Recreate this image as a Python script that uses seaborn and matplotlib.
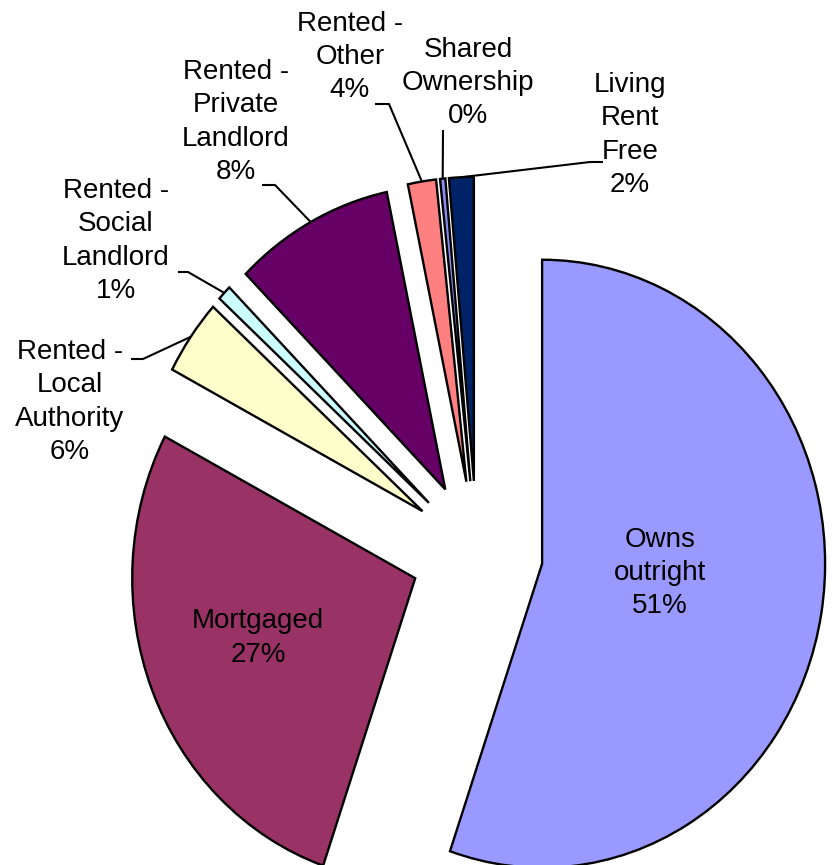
import matplotlib
matplotlib.use("Agg")
import matplotlib.pyplot as plt
import seaborn as sns
import numpy as np

# tenure categories, clockwise from 12 o'clock
categories = ["Owns outright", "Mortgaged", "Rented - Local Authority",
              "Rented - Social Landlord", "Rented - Private Landlord",
              "Rented - Other", "Shared Ownership", "Living Rent Free"]
# slice sizes as drawn in the chart
shares = [55.0, 27.3, 4.0, 0.8, 9.1, 1.6, 0.3, 1.4]
# percentages printed in the data labels
pct_labels = ["51%", "27%", "6%", "1%", "8%", "4%", "0%", "2%"]
label_names = ["Owns\noutright", "Mortgaged", "Rented -\nLocal\nAuthority",
               "Rented -\nSocial\nLandlord", "Rented -\nPrivate\nLandlord",
               "Rented -\nOther", "Shared\nOwnership", "Living\nRent\nFree"]
colors = ["#9999FF", "#993366", "#FFFFCC", "#CCFFFF",
          "#660066", "#FF8080", "#8A8AF0", "#002266"]

sns.set_theme(style="white")
plt.rcParams["font.family"] = ["Liberation Sans", "DejaVu Sans"]

W, H = 835, 865
fig = plt.figure(figsize=(W / 100, H / 100), dpi=100)
ax = fig.add_axes([0, 0, 1, 1])

wedges, _ = ax.pie(shares, colors=colors, explode=[0.234] * len(shares),
                   startangle=90, counterclock=False,
                   wedgeprops=dict(edgecolor="black", linewidth=1.7))

# the original pie is slightly squashed horizontally
ax.set_aspect("auto")
cx, cy, rx, ry = 476.8, 552, 283, 304
ax.set_xlim(-cx / rx, (W - cx) / rx)
ax.set_ylim(-(H - cy) / ry, cy / ry)
ax.axis("off")


def px(x, y):
    # pixel position in the picture -> data coords
    return (x - cx) / rx, (cy - y) / ry


def arc_mid(w):
    a = np.deg2rad((w.theta1 + w.theta2) / 2)
    return w.center[0] + w.r * np.cos(a), w.center[1] + w.r * np.sin(a)


# label centres (pixels) and leader line start points
label_pos = [(660, 573), (258, 638), (70, 402), (116, 241),
             (236, 122), (350, 57), (468, 83), (630, 135)]
leaders = [None, None,
           [(131, 359), (143, 359)],
           [(178, 272), (188, 272)],
           [(262, 185), (275, 185)],
           [(375, 104), (389, 104)],
           [(443, 130)],
           [(603, 162), (590, 162)]]

for i, w in enumerate(wedges):
    x, y = px(*label_pos[i])
    ax.text(x, y, label_names[i] + "\n" + pct_labels[i], ha="center", va="center",
            fontsize=20, color="black", linespacing=1.36)
    if leaders[i] is not None:
        pts = [px(*p) for p in leaders[i]] + [arc_mid(w)]
        xs, ys = zip(*pts)
        ax.plot(xs, ys, color="black", lw=1.5, solid_capstyle="butt")

fig.savefig("out.png", dpi=100)
